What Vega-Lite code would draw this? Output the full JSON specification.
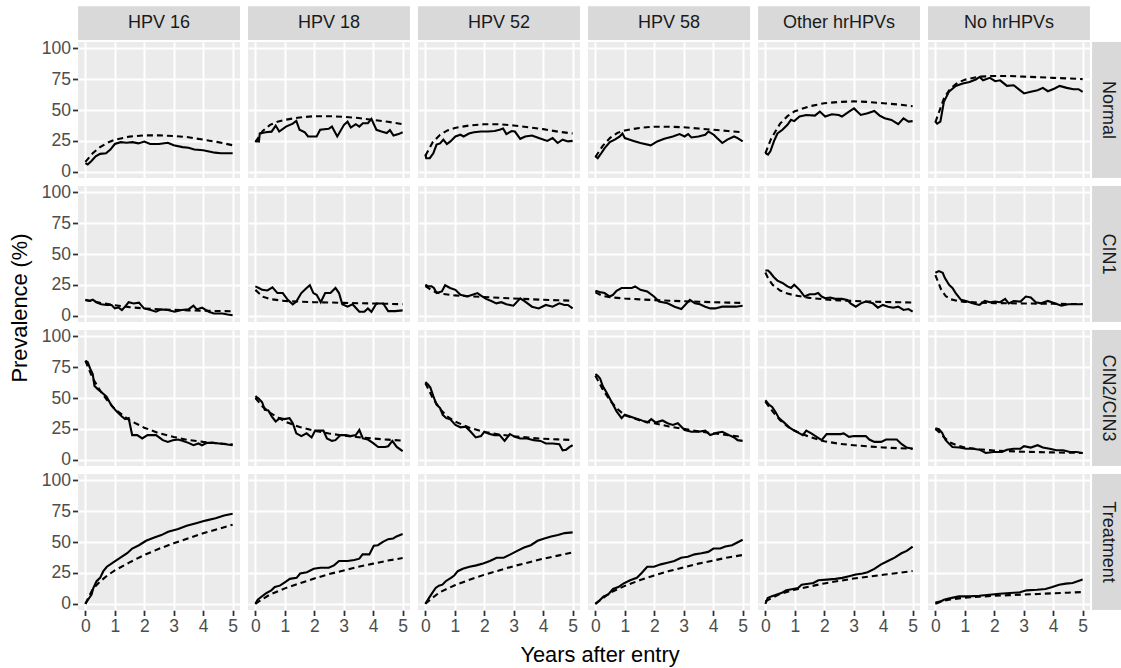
{
"$schema": "https://vega.github.io/schema/vega-lite/v6.json",
"background": "white",
"padding": {"left": 10, "top": 6, "right": 0, "bottom": 0},
"data": {"values": [
{"col":"HPV 16","row":"Normal","s":"obs","t":0,"v":7},{"col":"HPV 16","row":"Normal","s":"obs","t":0.08,"v":6},{"col":"HPV 16","row":"Normal","s":"obs","t":0.2,"v":8.5},{"col":"HPV 16","row":"Normal","s":"obs","t":0.35,"v":12.5},{"col":"HPV 16","row":"Normal","s":"obs","t":0.5,"v":14.5},{"col":"HPV 16","row":"Normal","s":"obs","t":0.7,"v":15},{"col":"HPV 16","row":"Normal","s":"obs","t":0.85,"v":18},{"col":"HPV 16","row":"Normal","s":"obs","t":1.0,"v":22.5},{"col":"HPV 16","row":"Normal","s":"obs","t":1.2,"v":24},{"col":"HPV 16","row":"Normal","s":"obs","t":1.4,"v":23.5},{"col":"HPV 16","row":"Normal","s":"obs","t":1.6,"v":24},{"col":"HPV 16","row":"Normal","s":"obs","t":1.8,"v":23},{"col":"HPV 16","row":"Normal","s":"obs","t":2.0,"v":24.5},{"col":"HPV 16","row":"Normal","s":"obs","t":2.2,"v":22.5},{"col":"HPV 16","row":"Normal","s":"obs","t":2.5,"v":22.5},{"col":"HPV 16","row":"Normal","s":"obs","t":2.8,"v":23.5},{"col":"HPV 16","row":"Normal","s":"obs","t":3.0,"v":21.5},{"col":"HPV 16","row":"Normal","s":"obs","t":3.3,"v":20},{"col":"HPV 16","row":"Normal","s":"obs","t":3.5,"v":19.5},{"col":"HPV 16","row":"Normal","s":"obs","t":3.7,"v":18},{"col":"HPV 16","row":"Normal","s":"obs","t":4.0,"v":17.5},{"col":"HPV 16","row":"Normal","s":"obs","t":4.2,"v":16.5},{"col":"HPV 16","row":"Normal","s":"obs","t":4.4,"v":15.5},{"col":"HPV 16","row":"Normal","s":"obs","t":4.6,"v":15},{"col":"HPV 16","row":"Normal","s":"obs","t":5.0,"v":15},
{"col":"HPV 16","row":"Normal","s":"mod","t":0,"v":8},{"col":"HPV 16","row":"Normal","s":"mod","t":0.25,"v":15},{"col":"HPV 16","row":"Normal","s":"mod","t":0.5,"v":20},{"col":"HPV 16","row":"Normal","s":"mod","t":0.75,"v":23.5},{"col":"HPV 16","row":"Normal","s":"mod","t":1,"v":26},{"col":"HPV 16","row":"Normal","s":"mod","t":1.5,"v":28.5},{"col":"HPV 16","row":"Normal","s":"mod","t":2,"v":29.5},{"col":"HPV 16","row":"Normal","s":"mod","t":2.5,"v":29.5},{"col":"HPV 16","row":"Normal","s":"mod","t":3,"v":29},{"col":"HPV 16","row":"Normal","s":"mod","t":3.5,"v":28},{"col":"HPV 16","row":"Normal","s":"mod","t":4,"v":26},{"col":"HPV 16","row":"Normal","s":"mod","t":4.5,"v":24},{"col":"HPV 16","row":"Normal","s":"mod","t":5,"v":21.5},
{"col":"HPV 18","row":"Normal","s":"obs","t":0,"v":25},{"col":"HPV 18","row":"Normal","s":"obs","t":0.12,"v":24.5},{"col":"HPV 18","row":"Normal","s":"obs","t":0.15,"v":31},{"col":"HPV 18","row":"Normal","s":"obs","t":0.35,"v":32},{"col":"HPV 18","row":"Normal","s":"obs","t":0.55,"v":32.5},{"col":"HPV 18","row":"Normal","s":"obs","t":0.69,"v":37.4},{"col":"HPV 18","row":"Normal","s":"obs","t":0.81,"v":32.6},{"col":"HPV 18","row":"Normal","s":"obs","t":1.04,"v":36.6},{"col":"HPV 18","row":"Normal","s":"obs","t":1.27,"v":39},{"col":"HPV 18","row":"Normal","s":"obs","t":1.39,"v":41.2},{"col":"HPV 18","row":"Normal","s":"obs","t":1.5,"v":34},{"col":"HPV 18","row":"Normal","s":"obs","t":1.68,"v":32},{"col":"HPV 18","row":"Normal","s":"obs","t":1.79,"v":28.6},{"col":"HPV 18","row":"Normal","s":"obs","t":2.08,"v":28.6},{"col":"HPV 18","row":"Normal","s":"obs","t":2.2,"v":34},{"col":"HPV 18","row":"Normal","s":"obs","t":2.49,"v":34.8},{"col":"HPV 18","row":"Normal","s":"obs","t":2.6,"v":36.6},{"col":"HPV 18","row":"Normal","s":"obs","t":2.78,"v":28.6},{"col":"HPV 18","row":"Normal","s":"obs","t":3.01,"v":38},{"col":"HPV 18","row":"Normal","s":"obs","t":3.13,"v":40.6},{"col":"HPV 18","row":"Normal","s":"obs","t":3.24,"v":35.8},{"col":"HPV 18","row":"Normal","s":"obs","t":3.41,"v":38.5},{"col":"HPV 18","row":"Normal","s":"obs","t":3.53,"v":36.6},{"col":"HPV 18","row":"Normal","s":"obs","t":3.65,"v":39.3},{"col":"HPV 18","row":"Normal","s":"obs","t":3.82,"v":39.3},{"col":"HPV 18","row":"Normal","s":"obs","t":3.94,"v":42.8},{"col":"HPV 18","row":"Normal","s":"obs","t":4.11,"v":34},{"col":"HPV 18","row":"Normal","s":"obs","t":4.28,"v":32.6},{"col":"HPV 18","row":"Normal","s":"obs","t":4.46,"v":31.3},{"col":"HPV 18","row":"Normal","s":"obs","t":4.57,"v":33.7},{"col":"HPV 18","row":"Normal","s":"obs","t":4.69,"v":29.4},{"col":"HPV 18","row":"Normal","s":"obs","t":4.86,"v":30.5},{"col":"HPV 18","row":"Normal","s":"obs","t":5,"v":32},
{"col":"HPV 18","row":"Normal","s":"mod","t":0,"v":24},{"col":"HPV 18","row":"Normal","s":"mod","t":0.25,"v":33},{"col":"HPV 18","row":"Normal","s":"mod","t":0.5,"v":38},{"col":"HPV 18","row":"Normal","s":"mod","t":0.75,"v":40.5},{"col":"HPV 18","row":"Normal","s":"mod","t":1,"v":42},{"col":"HPV 18","row":"Normal","s":"mod","t":1.5,"v":44},{"col":"HPV 18","row":"Normal","s":"mod","t":2,"v":45},{"col":"HPV 18","row":"Normal","s":"mod","t":2.5,"v":45},{"col":"HPV 18","row":"Normal","s":"mod","t":3,"v":44.5},{"col":"HPV 18","row":"Normal","s":"mod","t":3.5,"v":43.5},{"col":"HPV 18","row":"Normal","s":"mod","t":4,"v":42},{"col":"HPV 18","row":"Normal","s":"mod","t":4.5,"v":40.5},{"col":"HPV 18","row":"Normal","s":"mod","t":5,"v":38.5},
{"col":"HPV 52","row":"Normal","s":"obs","t":0,"v":14},{"col":"HPV 52","row":"Normal","s":"obs","t":0.03,"v":11},{"col":"HPV 52","row":"Normal","s":"obs","t":0.15,"v":11},{"col":"HPV 52","row":"Normal","s":"obs","t":0.27,"v":15},{"col":"HPV 52","row":"Normal","s":"obs","t":0.38,"v":22},{"col":"HPV 52","row":"Normal","s":"obs","t":0.5,"v":23},{"col":"HPV 52","row":"Normal","s":"obs","t":0.61,"v":26},{"col":"HPV 52","row":"Normal","s":"obs","t":0.73,"v":22.5},{"col":"HPV 52","row":"Normal","s":"obs","t":0.85,"v":24.6},{"col":"HPV 52","row":"Normal","s":"obs","t":1.02,"v":28.6},{"col":"HPV 52","row":"Normal","s":"obs","t":1.19,"v":30},{"col":"HPV 52","row":"Normal","s":"obs","t":1.3,"v":28.6},{"col":"HPV 52","row":"Normal","s":"obs","t":1.48,"v":31},{"col":"HPV 52","row":"Normal","s":"obs","t":1.65,"v":32},{"col":"HPV 52","row":"Normal","s":"obs","t":1.89,"v":32.6},{"col":"HPV 52","row":"Normal","s":"obs","t":2.12,"v":32.6},{"col":"HPV 52","row":"Normal","s":"obs","t":2.35,"v":33},{"col":"HPV 52","row":"Normal","s":"obs","t":2.52,"v":34},{"col":"HPV 52","row":"Normal","s":"obs","t":2.64,"v":35},{"col":"HPV 52","row":"Normal","s":"obs","t":2.75,"v":30.5},{"col":"HPV 52","row":"Normal","s":"obs","t":2.93,"v":33},{"col":"HPV 52","row":"Normal","s":"obs","t":3.04,"v":32.6},{"col":"HPV 52","row":"Normal","s":"obs","t":3.22,"v":26.7},{"col":"HPV 52","row":"Normal","s":"obs","t":3.39,"v":28.6},{"col":"HPV 52","row":"Normal","s":"obs","t":3.62,"v":29.4},{"col":"HPV 52","row":"Normal","s":"obs","t":3.85,"v":27.3},{"col":"HPV 52","row":"Normal","s":"obs","t":4.14,"v":25},{"col":"HPV 52","row":"Normal","s":"obs","t":4.32,"v":27.3},{"col":"HPV 52","row":"Normal","s":"obs","t":4.49,"v":23.3},{"col":"HPV 52","row":"Normal","s":"obs","t":4.66,"v":26},{"col":"HPV 52","row":"Normal","s":"obs","t":4.84,"v":24.6},{"col":"HPV 52","row":"Normal","s":"obs","t":5,"v":25},
{"col":"HPV 52","row":"Normal","s":"mod","t":0,"v":13},{"col":"HPV 52","row":"Normal","s":"mod","t":0.25,"v":24},{"col":"HPV 52","row":"Normal","s":"mod","t":0.5,"v":30},{"col":"HPV 52","row":"Normal","s":"mod","t":0.75,"v":33.5},{"col":"HPV 52","row":"Normal","s":"mod","t":1,"v":35.5},{"col":"HPV 52","row":"Normal","s":"mod","t":1.5,"v":37.5},{"col":"HPV 52","row":"Normal","s":"mod","t":2,"v":38.5},{"col":"HPV 52","row":"Normal","s":"mod","t":2.5,"v":38.5},{"col":"HPV 52","row":"Normal","s":"mod","t":3,"v":37.5},{"col":"HPV 52","row":"Normal","s":"mod","t":3.5,"v":36},{"col":"HPV 52","row":"Normal","s":"mod","t":4,"v":34.5},{"col":"HPV 52","row":"Normal","s":"mod","t":4.5,"v":32.5},{"col":"HPV 52","row":"Normal","s":"mod","t":5,"v":31},
{"col":"HPV 58","row":"Normal","s":"obs","t":0,"v":12.6},{"col":"HPV 58","row":"Normal","s":"obs","t":0.08,"v":11},{"col":"HPV 58","row":"Normal","s":"obs","t":0.2,"v":15},{"col":"HPV 58","row":"Normal","s":"obs","t":0.31,"v":19},{"col":"HPV 58","row":"Normal","s":"obs","t":0.49,"v":24},{"col":"HPV 58","row":"Normal","s":"obs","t":0.66,"v":26},{"col":"HPV 58","row":"Normal","s":"obs","t":0.83,"v":28.6},{"col":"HPV 58","row":"Normal","s":"obs","t":0.92,"v":31},{"col":"HPV 58","row":"Normal","s":"obs","t":1.0,"v":27.3},{"col":"HPV 58","row":"Normal","s":"obs","t":1.3,"v":25},{"col":"HPV 58","row":"Normal","s":"obs","t":1.53,"v":23.3},{"col":"HPV 58","row":"Normal","s":"obs","t":1.88,"v":21.4},{"col":"HPV 58","row":"Normal","s":"obs","t":2.1,"v":24.6},{"col":"HPV 58","row":"Normal","s":"obs","t":2.34,"v":26.7},{"col":"HPV 58","row":"Normal","s":"obs","t":2.63,"v":28.6},{"col":"HPV 58","row":"Normal","s":"obs","t":2.86,"v":30.5},{"col":"HPV 58","row":"Normal","s":"obs","t":3.03,"v":28.6},{"col":"HPV 58","row":"Normal","s":"obs","t":3.15,"v":30.5},{"col":"HPV 58","row":"Normal","s":"obs","t":3.26,"v":27.8},{"col":"HPV 58","row":"Normal","s":"obs","t":3.5,"v":28.6},{"col":"HPV 58","row":"Normal","s":"obs","t":3.73,"v":30},{"col":"HPV 58","row":"Normal","s":"obs","t":3.84,"v":32.6},{"col":"HPV 58","row":"Normal","s":"obs","t":4.02,"v":30},{"col":"HPV 58","row":"Normal","s":"obs","t":4.13,"v":27.3},{"col":"HPV 58","row":"Normal","s":"obs","t":4.31,"v":23.3},{"col":"HPV 58","row":"Normal","s":"obs","t":4.48,"v":26},{"col":"HPV 58","row":"Normal","s":"obs","t":4.71,"v":28.6},{"col":"HPV 58","row":"Normal","s":"obs","t":4.83,"v":27.3},{"col":"HPV 58","row":"Normal","s":"obs","t":5,"v":24.6},
{"col":"HPV 58","row":"Normal","s":"mod","t":0,"v":12},{"col":"HPV 58","row":"Normal","s":"mod","t":0.25,"v":21},{"col":"HPV 58","row":"Normal","s":"mod","t":0.5,"v":27.5},{"col":"HPV 58","row":"Normal","s":"mod","t":0.75,"v":31.5},{"col":"HPV 58","row":"Normal","s":"mod","t":1,"v":33.5},{"col":"HPV 58","row":"Normal","s":"mod","t":1.5,"v":35.5},{"col":"HPV 58","row":"Normal","s":"mod","t":2,"v":36.5},{"col":"HPV 58","row":"Normal","s":"mod","t":2.5,"v":36.5},{"col":"HPV 58","row":"Normal","s":"mod","t":3,"v":36},{"col":"HPV 58","row":"Normal","s":"mod","t":3.5,"v":35},{"col":"HPV 58","row":"Normal","s":"mod","t":4,"v":34},{"col":"HPV 58","row":"Normal","s":"mod","t":4.5,"v":33},{"col":"HPV 58","row":"Normal","s":"mod","t":5,"v":32},
{"col":"Other hrHPVs","row":"Normal","s":"obs","t":0,"v":15.2},{"col":"Other hrHPVs","row":"Normal","s":"obs","t":0.09,"v":14},{"col":"Other hrHPVs","row":"Normal","s":"obs","t":0.17,"v":16.6},{"col":"Other hrHPVs","row":"Normal","s":"obs","t":0.29,"v":24.6},{"col":"Other hrHPVs","row":"Normal","s":"obs","t":0.41,"v":31},{"col":"Other hrHPVs","row":"Normal","s":"obs","t":0.58,"v":34},{"col":"Other hrHPVs","row":"Normal","s":"obs","t":0.75,"v":38},{"col":"Other hrHPVs","row":"Normal","s":"obs","t":0.87,"v":42},{"col":"Other hrHPVs","row":"Normal","s":"obs","t":0.98,"v":41},{"col":"Other hrHPVs","row":"Normal","s":"obs","t":1.16,"v":44.7},{"col":"Other hrHPVs","row":"Normal","s":"obs","t":1.39,"v":46},{"col":"Other hrHPVs","row":"Normal","s":"obs","t":1.68,"v":45.5},{"col":"Other hrHPVs","row":"Normal","s":"obs","t":1.85,"v":48.7},{"col":"Other hrHPVs","row":"Normal","s":"obs","t":2.03,"v":44.7},{"col":"Other hrHPVs","row":"Normal","s":"obs","t":2.26,"v":46.5},{"col":"Other hrHPVs","row":"Normal","s":"obs","t":2.49,"v":46},{"col":"Other hrHPVs","row":"Normal","s":"obs","t":2.6,"v":44.7},{"col":"Other hrHPVs","row":"Normal","s":"obs","t":2.84,"v":48.7},{"col":"Other hrHPVs","row":"Normal","s":"obs","t":3.01,"v":51.3},{"col":"Other hrHPVs","row":"Normal","s":"obs","t":3.24,"v":46},{"col":"Other hrHPVs","row":"Normal","s":"obs","t":3.47,"v":47.3},{"col":"Other hrHPVs","row":"Normal","s":"obs","t":3.7,"v":49.2},{"col":"Other hrHPVs","row":"Normal","s":"obs","t":3.88,"v":45.5},{"col":"Other hrHPVs","row":"Normal","s":"obs","t":4.05,"v":43.3},{"col":"Other hrHPVs","row":"Normal","s":"obs","t":4.28,"v":42},{"col":"Other hrHPVs","row":"Normal","s":"obs","t":4.51,"v":38.5},{"col":"Other hrHPVs","row":"Normal","s":"obs","t":4.69,"v":43.3},{"col":"Other hrHPVs","row":"Normal","s":"obs","t":4.86,"v":40.6},{"col":"Other hrHPVs","row":"Normal","s":"obs","t":5,"v":41},
{"col":"Other hrHPVs","row":"Normal","s":"mod","t":0,"v":15},{"col":"Other hrHPVs","row":"Normal","s":"mod","t":0.2,"v":27},{"col":"Other hrHPVs","row":"Normal","s":"mod","t":0.5,"v":39},{"col":"Other hrHPVs","row":"Normal","s":"mod","t":0.75,"v":45},{"col":"Other hrHPVs","row":"Normal","s":"mod","t":1,"v":49},{"col":"Other hrHPVs","row":"Normal","s":"mod","t":1.5,"v":53},{"col":"Other hrHPVs","row":"Normal","s":"mod","t":2,"v":55.5},{"col":"Other hrHPVs","row":"Normal","s":"mod","t":2.5,"v":56.5},{"col":"Other hrHPVs","row":"Normal","s":"mod","t":3,"v":57},{"col":"Other hrHPVs","row":"Normal","s":"mod","t":3.5,"v":56.5},{"col":"Other hrHPVs","row":"Normal","s":"mod","t":4,"v":55.5},{"col":"Other hrHPVs","row":"Normal","s":"mod","t":4.5,"v":54.5},{"col":"Other hrHPVs","row":"Normal","s":"mod","t":5,"v":53},
{"col":"No hrHPVs","row":"Normal","s":"obs","t":0,"v":40.6},{"col":"No hrHPVs","row":"Normal","s":"obs","t":0.06,"v":39},{"col":"No hrHPVs","row":"Normal","s":"obs","t":0.17,"v":40.6},{"col":"No hrHPVs","row":"Normal","s":"obs","t":0.29,"v":56.7},{"col":"No hrHPVs","row":"Normal","s":"obs","t":0.46,"v":64.7},{"col":"No hrHPVs","row":"Normal","s":"obs","t":0.69,"v":69.5},{"col":"No hrHPVs","row":"Normal","s":"obs","t":0.93,"v":71.4},{"col":"No hrHPVs","row":"Normal","s":"obs","t":1.16,"v":72.7},{"col":"No hrHPVs","row":"Normal","s":"obs","t":1.39,"v":74.9},{"col":"No hrHPVs","row":"Normal","s":"obs","t":1.5,"v":76.7},{"col":"No hrHPVs","row":"Normal","s":"obs","t":1.62,"v":74},{"col":"No hrHPVs","row":"Normal","s":"obs","t":1.85,"v":76},{"col":"No hrHPVs","row":"Normal","s":"obs","t":2.03,"v":73.3},{"col":"No hrHPVs","row":"Normal","s":"obs","t":2.2,"v":74},{"col":"No hrHPVs","row":"Normal","s":"obs","t":2.43,"v":69.5},{"col":"No hrHPVs","row":"Normal","s":"obs","t":2.66,"v":70},{"col":"No hrHPVs","row":"Normal","s":"obs","t":3.01,"v":63.4},{"col":"No hrHPVs","row":"Normal","s":"obs","t":3.24,"v":64.7},{"col":"No hrHPVs","row":"Normal","s":"obs","t":3.47,"v":66},{"col":"No hrHPVs","row":"Normal","s":"obs","t":3.65,"v":67.9},{"col":"No hrHPVs","row":"Normal","s":"obs","t":3.82,"v":65.2},{"col":"No hrHPVs","row":"Normal","s":"obs","t":4.05,"v":67.4},{"col":"No hrHPVs","row":"Normal","s":"obs","t":4.22,"v":69.5},{"col":"No hrHPVs","row":"Normal","s":"obs","t":4.46,"v":67.9},{"col":"No hrHPVs","row":"Normal","s":"obs","t":4.69,"v":66.8},{"col":"No hrHPVs","row":"Normal","s":"obs","t":4.86,"v":66.8},{"col":"No hrHPVs","row":"Normal","s":"obs","t":5,"v":64.7},
{"col":"No hrHPVs","row":"Normal","s":"mod","t":0,"v":40},{"col":"No hrHPVs","row":"Normal","s":"mod","t":0.15,"v":50},{"col":"No hrHPVs","row":"Normal","s":"mod","t":0.3,"v":60},{"col":"No hrHPVs","row":"Normal","s":"mod","t":0.5,"v":67},{"col":"No hrHPVs","row":"Normal","s":"mod","t":0.75,"v":72},{"col":"No hrHPVs","row":"Normal","s":"mod","t":1,"v":74.5},{"col":"No hrHPVs","row":"Normal","s":"mod","t":1.5,"v":77},{"col":"No hrHPVs","row":"Normal","s":"mod","t":2,"v":77.5},{"col":"No hrHPVs","row":"Normal","s":"mod","t":2.5,"v":77.5},{"col":"No hrHPVs","row":"Normal","s":"mod","t":3,"v":77},{"col":"No hrHPVs","row":"Normal","s":"mod","t":3.5,"v":76.5},{"col":"No hrHPVs","row":"Normal","s":"mod","t":4,"v":76},{"col":"No hrHPVs","row":"Normal","s":"mod","t":4.5,"v":75.5},{"col":"No hrHPVs","row":"Normal","s":"mod","t":5,"v":75},
{"col":"HPV 16","row":"CIN1","s":"obs","t":0,"v":12.6},{"col":"HPV 16","row":"CIN1","s":"obs","t":0.14,"v":12},{"col":"HPV 16","row":"CIN1","s":"obs","t":0.25,"v":13},{"col":"HPV 16","row":"CIN1","s":"obs","t":0.37,"v":11},{"col":"HPV 16","row":"CIN1","s":"obs","t":0.54,"v":9.3},{"col":"HPV 16","row":"CIN1","s":"obs","t":0.72,"v":8.8},{"col":"HPV 16","row":"CIN1","s":"obs","t":0.89,"v":8.8},{"col":"HPV 16","row":"CIN1","s":"obs","t":1.0,"v":6},{"col":"HPV 16","row":"CIN1","s":"obs","t":1.12,"v":6.8},{"col":"HPV 16","row":"CIN1","s":"obs","t":1.24,"v":4.7},{"col":"HPV 16","row":"CIN1","s":"obs","t":1.35,"v":7.4},{"col":"HPV 16","row":"CIN1","s":"obs","t":1.47,"v":11},{"col":"HPV 16","row":"CIN1","s":"obs","t":1.64,"v":10},{"col":"HPV 16","row":"CIN1","s":"obs","t":1.82,"v":10.7},{"col":"HPV 16","row":"CIN1","s":"obs","t":1.99,"v":6},{"col":"HPV 16","row":"CIN1","s":"obs","t":2.22,"v":4.7},{"col":"HPV 16","row":"CIN1","s":"obs","t":2.4,"v":3.3},{"col":"HPV 16","row":"CIN1","s":"obs","t":2.57,"v":5.2},{"col":"HPV 16","row":"CIN1","s":"obs","t":2.8,"v":4.7},{"col":"HPV 16","row":"CIN1","s":"obs","t":3.03,"v":3.3},{"col":"HPV 16","row":"CIN1","s":"obs","t":3.26,"v":4.7},{"col":"HPV 16","row":"CIN1","s":"obs","t":3.5,"v":5.2},{"col":"HPV 16","row":"CIN1","s":"obs","t":3.67,"v":8.2},{"col":"HPV 16","row":"CIN1","s":"obs","t":3.78,"v":5.2},{"col":"HPV 16","row":"CIN1","s":"obs","t":3.96,"v":6.6},{"col":"HPV 16","row":"CIN1","s":"obs","t":4.19,"v":3.3},{"col":"HPV 16","row":"CIN1","s":"obs","t":4.36,"v":1.9},{"col":"HPV 16","row":"CIN1","s":"obs","t":4.65,"v":1.9},{"col":"HPV 16","row":"CIN1","s":"obs","t":4.83,"v":1.1},{"col":"HPV 16","row":"CIN1","s":"obs","t":5,"v":0.5},
{"col":"HPV 16","row":"CIN1","s":"mod","t":0,"v":13},{"col":"HPV 16","row":"CIN1","s":"mod","t":0.5,"v":10.5},{"col":"HPV 16","row":"CIN1","s":"mod","t":1,"v":8.5},{"col":"HPV 16","row":"CIN1","s":"mod","t":1.5,"v":7},{"col":"HPV 16","row":"CIN1","s":"mod","t":2,"v":6},{"col":"HPV 16","row":"CIN1","s":"mod","t":2.5,"v":5.3},{"col":"HPV 16","row":"CIN1","s":"mod","t":3,"v":4.8},{"col":"HPV 16","row":"CIN1","s":"mod","t":3.5,"v":4.4},{"col":"HPV 16","row":"CIN1","s":"mod","t":4,"v":4.1},{"col":"HPV 16","row":"CIN1","s":"mod","t":4.5,"v":3.9},{"col":"HPV 16","row":"CIN1","s":"mod","t":5,"v":3.7},
{"col":"HPV 18","row":"CIN1","s":"obs","t":0,"v":23.8},{"col":"HPV 18","row":"CIN1","s":"obs","t":0.12,"v":22.5},{"col":"HPV 18","row":"CIN1","s":"obs","t":0.23,"v":21},{"col":"HPV 18","row":"CIN1","s":"obs","t":0.41,"v":20.5},{"col":"HPV 18","row":"CIN1","s":"obs","t":0.58,"v":23},{"col":"HPV 18","row":"CIN1","s":"obs","t":0.75,"v":18.4},{"col":"HPV 18","row":"CIN1","s":"obs","t":0.93,"v":18.4},{"col":"HPV 18","row":"CIN1","s":"obs","t":1.1,"v":12.9},{"col":"HPV 18","row":"CIN1","s":"obs","t":1.27,"v":9.3},{"col":"HPV 18","row":"CIN1","s":"obs","t":1.39,"v":11.5},{"col":"HPV 18","row":"CIN1","s":"obs","t":1.56,"v":18.4},{"col":"HPV 18","row":"CIN1","s":"obs","t":1.74,"v":22.5},{"col":"HPV 18","row":"CIN1","s":"obs","t":1.85,"v":24.7},{"col":"HPV 18","row":"CIN1","s":"obs","t":1.97,"v":18.4},{"col":"HPV 18","row":"CIN1","s":"obs","t":2.08,"v":17},{"col":"HPV 18","row":"CIN1","s":"obs","t":2.22,"v":11},{"col":"HPV 18","row":"CIN1","s":"obs","t":2.37,"v":18.4},{"col":"HPV 18","row":"CIN1","s":"obs","t":2.55,"v":18.4},{"col":"HPV 18","row":"CIN1","s":"obs","t":2.72,"v":22.5},{"col":"HPV 18","row":"CIN1","s":"obs","t":2.84,"v":18.4},{"col":"HPV 18","row":"CIN1","s":"obs","t":2.95,"v":9.3},{"col":"HPV 18","row":"CIN1","s":"obs","t":3.13,"v":7.4},{"col":"HPV 18","row":"CIN1","s":"obs","t":3.3,"v":9.3},{"col":"HPV 18","row":"CIN1","s":"obs","t":3.53,"v":3.3},{"col":"HPV 18","row":"CIN1","s":"obs","t":3.7,"v":3.3},{"col":"HPV 18","row":"CIN1","s":"obs","t":3.82,"v":6},{"col":"HPV 18","row":"CIN1","s":"obs","t":3.94,"v":3.3},{"col":"HPV 18","row":"CIN1","s":"obs","t":4.11,"v":10},{"col":"HPV 18","row":"CIN1","s":"obs","t":4.34,"v":10},{"col":"HPV 18","row":"CIN1","s":"obs","t":4.51,"v":3.8},{"col":"HPV 18","row":"CIN1","s":"obs","t":4.75,"v":3.8},{"col":"HPV 18","row":"CIN1","s":"obs","t":5,"v":4.4},
{"col":"HPV 18","row":"CIN1","s":"mod","t":0,"v":21},{"col":"HPV 18","row":"CIN1","s":"mod","t":0.25,"v":15.5},{"col":"HPV 18","row":"CIN1","s":"mod","t":0.5,"v":13.5},{"col":"HPV 18","row":"CIN1","s":"mod","t":1,"v":12},{"col":"HPV 18","row":"CIN1","s":"mod","t":1.5,"v":11.5},{"col":"HPV 18","row":"CIN1","s":"mod","t":2,"v":11},{"col":"HPV 18","row":"CIN1","s":"mod","t":2.5,"v":10.8},{"col":"HPV 18","row":"CIN1","s":"mod","t":3,"v":10.5},{"col":"HPV 18","row":"CIN1","s":"mod","t":3.5,"v":10.2},{"col":"HPV 18","row":"CIN1","s":"mod","t":4,"v":10},{"col":"HPV 18","row":"CIN1","s":"mod","t":4.5,"v":9.7},{"col":"HPV 18","row":"CIN1","s":"mod","t":5,"v":9.4},
{"col":"HPV 52","row":"CIN1","s":"obs","t":0,"v":25.2},{"col":"HPV 52","row":"CIN1","s":"obs","t":0.09,"v":23.8},{"col":"HPV 52","row":"CIN1","s":"obs","t":0.21,"v":23.8},{"col":"HPV 52","row":"CIN1","s":"obs","t":0.29,"v":22.5},{"col":"HPV 52","row":"CIN1","s":"obs","t":0.38,"v":18.4},{"col":"HPV 52","row":"CIN1","s":"obs","t":0.56,"v":19.7},{"col":"HPV 52","row":"CIN1","s":"obs","t":0.67,"v":24.7},{"col":"HPV 52","row":"CIN1","s":"obs","t":0.84,"v":22.5},{"col":"HPV 52","row":"CIN1","s":"obs","t":1.02,"v":21},{"col":"HPV 52","row":"CIN1","s":"obs","t":1.19,"v":17},{"col":"HPV 52","row":"CIN1","s":"obs","t":1.42,"v":15.6},{"col":"HPV 52","row":"CIN1","s":"obs","t":1.6,"v":17},{"col":"HPV 52","row":"CIN1","s":"obs","t":1.77,"v":18.4},{"col":"HPV 52","row":"CIN1","s":"obs","t":1.89,"v":16.4},{"col":"HPV 52","row":"CIN1","s":"obs","t":2.06,"v":13.7},{"col":"HPV 52","row":"CIN1","s":"obs","t":2.24,"v":12},{"col":"HPV 52","row":"CIN1","s":"obs","t":2.41,"v":10.1},{"col":"HPV 52","row":"CIN1","s":"obs","t":2.58,"v":11},{"col":"HPV 52","row":"CIN1","s":"obs","t":2.75,"v":9.3},{"col":"HPV 52","row":"CIN1","s":"obs","t":2.99,"v":8.2},{"col":"HPV 52","row":"CIN1","s":"obs","t":3.22,"v":14.2},{"col":"HPV 52","row":"CIN1","s":"obs","t":3.39,"v":11.5},{"col":"HPV 52","row":"CIN1","s":"obs","t":3.62,"v":7.4},{"col":"HPV 52","row":"CIN1","s":"obs","t":3.85,"v":6},{"col":"HPV 52","row":"CIN1","s":"obs","t":4.09,"v":8.8},{"col":"HPV 52","row":"CIN1","s":"obs","t":4.32,"v":7.4},{"col":"HPV 52","row":"CIN1","s":"obs","t":4.55,"v":10.1},{"col":"HPV 52","row":"CIN1","s":"obs","t":4.72,"v":8.8},{"col":"HPV 52","row":"CIN1","s":"obs","t":4.84,"v":8.8},{"col":"HPV 52","row":"CIN1","s":"obs","t":5,"v":6},
{"col":"HPV 52","row":"CIN1","s":"mod","t":0,"v":24},{"col":"HPV 52","row":"CIN1","s":"mod","t":0.25,"v":20},{"col":"HPV 52","row":"CIN1","s":"mod","t":0.5,"v":18},{"col":"HPV 52","row":"CIN1","s":"mod","t":1,"v":16.5},{"col":"HPV 52","row":"CIN1","s":"mod","t":1.5,"v":15.8},{"col":"HPV 52","row":"CIN1","s":"mod","t":2,"v":15.2},{"col":"HPV 52","row":"CIN1","s":"mod","t":2.5,"v":14.6},{"col":"HPV 52","row":"CIN1","s":"mod","t":3,"v":14},{"col":"HPV 52","row":"CIN1","s":"mod","t":3.5,"v":13.5},{"col":"HPV 52","row":"CIN1","s":"mod","t":4,"v":13},{"col":"HPV 52","row":"CIN1","s":"mod","t":4.5,"v":12.6},{"col":"HPV 52","row":"CIN1","s":"mod","t":5,"v":12.2},
{"col":"HPV 58","row":"CIN1","s":"obs","t":0,"v":20.3},{"col":"HPV 58","row":"CIN1","s":"obs","t":0.14,"v":19.2},{"col":"HPV 58","row":"CIN1","s":"obs","t":0.31,"v":18.4},{"col":"HPV 58","row":"CIN1","s":"obs","t":0.49,"v":15.6},{"col":"HPV 58","row":"CIN1","s":"obs","t":0.6,"v":17},{"col":"HPV 58","row":"CIN1","s":"obs","t":0.72,"v":20.3},{"col":"HPV 58","row":"CIN1","s":"obs","t":0.89,"v":22.5},{"col":"HPV 58","row":"CIN1","s":"obs","t":1.06,"v":22.5},{"col":"HPV 58","row":"CIN1","s":"obs","t":1.24,"v":22.5},{"col":"HPV 58","row":"CIN1","s":"obs","t":1.35,"v":23.8},{"col":"HPV 58","row":"CIN1","s":"obs","t":1.53,"v":21},{"col":"HPV 58","row":"CIN1","s":"obs","t":1.76,"v":19.7},{"col":"HPV 58","row":"CIN1","s":"obs","t":1.99,"v":15.6},{"col":"HPV 58","row":"CIN1","s":"obs","t":2.16,"v":11.5},{"col":"HPV 58","row":"CIN1","s":"obs","t":2.45,"v":10.1},{"col":"HPV 58","row":"CIN1","s":"obs","t":2.69,"v":7.4},{"col":"HPV 58","row":"CIN1","s":"obs","t":2.92,"v":5.5},{"col":"HPV 58","row":"CIN1","s":"obs","t":3.21,"v":12.9},{"col":"HPV 58","row":"CIN1","s":"obs","t":3.38,"v":10.1},{"col":"HPV 58","row":"CIN1","s":"obs","t":3.55,"v":9.3},{"col":"HPV 58","row":"CIN1","s":"obs","t":3.73,"v":7.4},{"col":"HPV 58","row":"CIN1","s":"obs","t":3.9,"v":6},{"col":"HPV 58","row":"CIN1","s":"obs","t":4.07,"v":6},{"col":"HPV 58","row":"CIN1","s":"obs","t":4.31,"v":7.4},{"col":"HPV 58","row":"CIN1","s":"obs","t":4.54,"v":7.4},{"col":"HPV 58","row":"CIN1","s":"obs","t":4.77,"v":7.4},{"col":"HPV 58","row":"CIN1","s":"obs","t":5,"v":8.2},
{"col":"HPV 58","row":"CIN1","s":"mod","t":0,"v":19},{"col":"HPV 58","row":"CIN1","s":"mod","t":0.25,"v":16},{"col":"HPV 58","row":"CIN1","s":"mod","t":0.5,"v":15},{"col":"HPV 58","row":"CIN1","s":"mod","t":1,"v":14},{"col":"HPV 58","row":"CIN1","s":"mod","t":1.5,"v":13.3},{"col":"HPV 58","row":"CIN1","s":"mod","t":2,"v":12.7},{"col":"HPV 58","row":"CIN1","s":"mod","t":2.5,"v":12.2},{"col":"HPV 58","row":"CIN1","s":"mod","t":3,"v":11.8},{"col":"HPV 58","row":"CIN1","s":"mod","t":3.5,"v":11.4},{"col":"HPV 58","row":"CIN1","s":"mod","t":4,"v":11},{"col":"HPV 58","row":"CIN1","s":"mod","t":4.5,"v":10.7},{"col":"HPV 58","row":"CIN1","s":"mod","t":5,"v":10.4},
{"col":"Other hrHPVs","row":"CIN1","s":"obs","t":0,"v":36.7},{"col":"Other hrHPVs","row":"CIN1","s":"obs","t":0.09,"v":36.7},{"col":"Other hrHPVs","row":"CIN1","s":"obs","t":0.17,"v":34.8},{"col":"Other hrHPVs","row":"CIN1","s":"obs","t":0.29,"v":31.2},{"col":"Other hrHPVs","row":"CIN1","s":"obs","t":0.41,"v":28.5},{"col":"Other hrHPVs","row":"CIN1","s":"obs","t":0.58,"v":26.6},{"col":"Other hrHPVs","row":"CIN1","s":"obs","t":0.75,"v":23.8},{"col":"Other hrHPVs","row":"CIN1","s":"obs","t":0.87,"v":22.5},{"col":"Other hrHPVs","row":"CIN1","s":"obs","t":0.98,"v":25.2},{"col":"Other hrHPVs","row":"CIN1","s":"obs","t":1.16,"v":21},{"col":"Other hrHPVs","row":"CIN1","s":"obs","t":1.33,"v":15.6},{"col":"Other hrHPVs","row":"CIN1","s":"obs","t":1.5,"v":17.5},{"col":"Other hrHPVs","row":"CIN1","s":"obs","t":1.68,"v":17.5},{"col":"Other hrHPVs","row":"CIN1","s":"obs","t":1.79,"v":18.4},{"col":"Other hrHPVs","row":"CIN1","s":"obs","t":1.91,"v":15.6},{"col":"Other hrHPVs","row":"CIN1","s":"obs","t":2.03,"v":14.2},{"col":"Other hrHPVs","row":"CIN1","s":"obs","t":2.2,"v":14.8},{"col":"Other hrHPVs","row":"CIN1","s":"obs","t":2.37,"v":13.7},{"col":"Other hrHPVs","row":"CIN1","s":"obs","t":2.6,"v":13.7},{"col":"Other hrHPVs","row":"CIN1","s":"obs","t":2.78,"v":12.9},{"col":"Other hrHPVs","row":"CIN1","s":"obs","t":2.89,"v":10.1},{"col":"Other hrHPVs","row":"CIN1","s":"obs","t":3.07,"v":7.4},{"col":"Other hrHPVs","row":"CIN1","s":"obs","t":3.24,"v":10.1},{"col":"Other hrHPVs","row":"CIN1","s":"obs","t":3.41,"v":11.5},{"col":"Other hrHPVs","row":"CIN1","s":"obs","t":3.65,"v":10.1},{"col":"Other hrHPVs","row":"CIN1","s":"obs","t":3.82,"v":6.6},{"col":"Other hrHPVs","row":"CIN1","s":"obs","t":3.99,"v":8.8},{"col":"Other hrHPVs","row":"CIN1","s":"obs","t":4.17,"v":7.4},{"col":"Other hrHPVs","row":"CIN1","s":"obs","t":4.34,"v":6.6},{"col":"Other hrHPVs","row":"CIN1","s":"obs","t":4.51,"v":7.4},{"col":"Other hrHPVs","row":"CIN1","s":"obs","t":4.69,"v":4.7},{"col":"Other hrHPVs","row":"CIN1","s":"obs","t":4.86,"v":5.5},{"col":"Other hrHPVs","row":"CIN1","s":"obs","t":5,"v":3.3},
{"col":"Other hrHPVs","row":"CIN1","s":"mod","t":0,"v":35},{"col":"Other hrHPVs","row":"CIN1","s":"mod","t":0.1,"v":30},{"col":"Other hrHPVs","row":"CIN1","s":"mod","t":0.25,"v":25},{"col":"Other hrHPVs","row":"CIN1","s":"mod","t":0.5,"v":20.5},{"col":"Other hrHPVs","row":"CIN1","s":"mod","t":0.75,"v":18},{"col":"Other hrHPVs","row":"CIN1","s":"mod","t":1,"v":16.5},{"col":"Other hrHPVs","row":"CIN1","s":"mod","t":1.5,"v":14.5},{"col":"Other hrHPVs","row":"CIN1","s":"mod","t":2,"v":13.3},{"col":"Other hrHPVs","row":"CIN1","s":"mod","t":2.5,"v":12.5},{"col":"Other hrHPVs","row":"CIN1","s":"mod","t":3,"v":12},{"col":"Other hrHPVs","row":"CIN1","s":"mod","t":3.5,"v":11.5},{"col":"Other hrHPVs","row":"CIN1","s":"mod","t":4,"v":11.2},{"col":"Other hrHPVs","row":"CIN1","s":"mod","t":4.5,"v":11},{"col":"Other hrHPVs","row":"CIN1","s":"mod","t":5,"v":10.8},
{"col":"No hrHPVs","row":"CIN1","s":"obs","t":0,"v":34.8},{"col":"No hrHPVs","row":"CIN1","s":"obs","t":0.12,"v":36.2},{"col":"No hrHPVs","row":"CIN1","s":"obs","t":0.25,"v":34.8},{"col":"No hrHPVs","row":"CIN1","s":"obs","t":0.32,"v":30.7},{"col":"No hrHPVs","row":"CIN1","s":"obs","t":0.46,"v":25.2},{"col":"No hrHPVs","row":"CIN1","s":"obs","t":0.58,"v":22.5},{"col":"No hrHPVs","row":"CIN1","s":"obs","t":0.69,"v":18.4},{"col":"No hrHPVs","row":"CIN1","s":"obs","t":0.87,"v":12.9},{"col":"No hrHPVs","row":"CIN1","s":"obs","t":1.04,"v":12},{"col":"No hrHPVs","row":"CIN1","s":"obs","t":1.27,"v":10.1},{"col":"No hrHPVs","row":"CIN1","s":"obs","t":1.39,"v":9.3},{"col":"No hrHPVs","row":"CIN1","s":"obs","t":1.5,"v":8.8},{"col":"No hrHPVs","row":"CIN1","s":"obs","t":1.68,"v":12},{"col":"No hrHPVs","row":"CIN1","s":"obs","t":1.85,"v":11},{"col":"No hrHPVs","row":"CIN1","s":"obs","t":2.03,"v":11.5},{"col":"No hrHPVs","row":"CIN1","s":"obs","t":2.2,"v":11},{"col":"No hrHPVs","row":"CIN1","s":"obs","t":2.37,"v":13.7},{"col":"No hrHPVs","row":"CIN1","s":"obs","t":2.49,"v":10.1},{"col":"No hrHPVs","row":"CIN1","s":"obs","t":2.66,"v":12},{"col":"No hrHPVs","row":"CIN1","s":"obs","t":2.89,"v":11.5},{"col":"No hrHPVs","row":"CIN1","s":"obs","t":3.07,"v":15.6},{"col":"No hrHPVs","row":"CIN1","s":"obs","t":3.24,"v":14.8},{"col":"No hrHPVs","row":"CIN1","s":"obs","t":3.41,"v":11},{"col":"No hrHPVs","row":"CIN1","s":"obs","t":3.59,"v":10.1},{"col":"No hrHPVs","row":"CIN1","s":"obs","t":3.82,"v":12},{"col":"No hrHPVs","row":"CIN1","s":"obs","t":4.05,"v":10.1},{"col":"No hrHPVs","row":"CIN1","s":"obs","t":4.28,"v":8.2},{"col":"No hrHPVs","row":"CIN1","s":"obs","t":4.51,"v":9.3},{"col":"No hrHPVs","row":"CIN1","s":"obs","t":4.75,"v":9.3},{"col":"No hrHPVs","row":"CIN1","s":"obs","t":5,"v":9.3},
{"col":"No hrHPVs","row":"CIN1","s":"mod","t":0,"v":33},{"col":"No hrHPVs","row":"CIN1","s":"mod","t":0.1,"v":27},{"col":"No hrHPVs","row":"CIN1","s":"mod","t":0.2,"v":21},{"col":"No hrHPVs","row":"CIN1","s":"mod","t":0.35,"v":16},{"col":"No hrHPVs","row":"CIN1","s":"mod","t":0.5,"v":13.5},{"col":"No hrHPVs","row":"CIN1","s":"mod","t":0.75,"v":12},{"col":"No hrHPVs","row":"CIN1","s":"mod","t":1,"v":11.3},{"col":"No hrHPVs","row":"CIN1","s":"mod","t":1.5,"v":10.7},{"col":"No hrHPVs","row":"CIN1","s":"mod","t":2,"v":10.3},{"col":"No hrHPVs","row":"CIN1","s":"mod","t":3,"v":10},{"col":"No hrHPVs","row":"CIN1","s":"mod","t":4,"v":9.7},{"col":"No hrHPVs","row":"CIN1","s":"mod","t":5,"v":9.5},
{"col":"HPV 16","row":"CIN2/CIN3","s":"obs","t":0,"v":80.3},{"col":"HPV 16","row":"CIN2/CIN3","s":"obs","t":0.08,"v":78.9},{"col":"HPV 16","row":"CIN2/CIN3","s":"obs","t":0.16,"v":74},{"col":"HPV 16","row":"CIN2/CIN3","s":"obs","t":0.25,"v":69.3},{"col":"HPV 16","row":"CIN2/CIN3","s":"obs","t":0.31,"v":59.7},{"col":"HPV 16","row":"CIN2/CIN3","s":"obs","t":0.43,"v":57},{"col":"HPV 16","row":"CIN2/CIN3","s":"obs","t":0.54,"v":54.8},{"col":"HPV 16","row":"CIN2/CIN3","s":"obs","t":0.72,"v":51},{"col":"HPV 16","row":"CIN2/CIN3","s":"obs","t":0.89,"v":43.8},{"col":"HPV 16","row":"CIN2/CIN3","s":"obs","t":1.06,"v":39.2},{"col":"HPV 16","row":"CIN2/CIN3","s":"obs","t":1.24,"v":35},{"col":"HPV 16","row":"CIN2/CIN3","s":"obs","t":1.35,"v":32.9},{"col":"HPV 16","row":"CIN2/CIN3","s":"obs","t":1.47,"v":33.7},{"col":"HPV 16","row":"CIN2/CIN3","s":"obs","t":1.53,"v":26.8},{"col":"HPV 16","row":"CIN2/CIN3","s":"obs","t":1.59,"v":20},{"col":"HPV 16","row":"CIN2/CIN3","s":"obs","t":1.76,"v":20},{"col":"HPV 16","row":"CIN2/CIN3","s":"obs","t":1.93,"v":17.3},{"col":"HPV 16","row":"CIN2/CIN3","s":"obs","t":2.11,"v":20},{"col":"HPV 16","row":"CIN2/CIN3","s":"obs","t":2.4,"v":20},{"col":"HPV 16","row":"CIN2/CIN3","s":"obs","t":2.63,"v":15.9},{"col":"HPV 16","row":"CIN2/CIN3","s":"obs","t":2.8,"v":14.5},{"col":"HPV 16","row":"CIN2/CIN3","s":"obs","t":2.97,"v":15.9},{"col":"HPV 16","row":"CIN2/CIN3","s":"obs","t":3.15,"v":16.4},{"col":"HPV 16","row":"CIN2/CIN3","s":"obs","t":3.32,"v":15.3},{"col":"HPV 16","row":"CIN2/CIN3","s":"obs","t":3.5,"v":13.7},{"col":"HPV 16","row":"CIN2/CIN3","s":"obs","t":3.67,"v":11.8},{"col":"HPV 16","row":"CIN2/CIN3","s":"obs","t":3.84,"v":13.2},{"col":"HPV 16","row":"CIN2/CIN3","s":"obs","t":3.96,"v":11.8},{"col":"HPV 16","row":"CIN2/CIN3","s":"obs","t":4.13,"v":13.7},{"col":"HPV 16","row":"CIN2/CIN3","s":"obs","t":4.36,"v":13.7},{"col":"HPV 16","row":"CIN2/CIN3","s":"obs","t":4.54,"v":13.2},{"col":"HPV 16","row":"CIN2/CIN3","s":"obs","t":4.77,"v":12.6},{"col":"HPV 16","row":"CIN2/CIN3","s":"obs","t":5,"v":11.8},
{"col":"HPV 16","row":"CIN2/CIN3","s":"mod","t":0,"v":80},{"col":"HPV 16","row":"CIN2/CIN3","s":"mod","t":0.25,"v":66},{"col":"HPV 16","row":"CIN2/CIN3","s":"mod","t":0.5,"v":56},{"col":"HPV 16","row":"CIN2/CIN3","s":"mod","t":0.75,"v":48},{"col":"HPV 16","row":"CIN2/CIN3","s":"mod","t":1,"v":41},{"col":"HPV 16","row":"CIN2/CIN3","s":"mod","t":1.5,"v":32},{"col":"HPV 16","row":"CIN2/CIN3","s":"mod","t":2,"v":26},{"col":"HPV 16","row":"CIN2/CIN3","s":"mod","t":2.5,"v":21.5},{"col":"HPV 16","row":"CIN2/CIN3","s":"mod","t":3,"v":18.5},{"col":"HPV 16","row":"CIN2/CIN3","s":"mod","t":3.5,"v":16},{"col":"HPV 16","row":"CIN2/CIN3","s":"mod","t":4,"v":14.5},{"col":"HPV 16","row":"CIN2/CIN3","s":"mod","t":4.5,"v":13.3},{"col":"HPV 16","row":"CIN2/CIN3","s":"mod","t":5,"v":12.5},
{"col":"HPV 18","row":"CIN2/CIN3","s":"obs","t":0,"v":51.5},{"col":"HPV 18","row":"CIN2/CIN3","s":"obs","t":0.12,"v":49.3},{"col":"HPV 18","row":"CIN2/CIN3","s":"obs","t":0.23,"v":46.6},{"col":"HPV 18","row":"CIN2/CIN3","s":"obs","t":0.32,"v":40.5},{"col":"HPV 18","row":"CIN2/CIN3","s":"obs","t":0.44,"v":40},{"col":"HPV 18","row":"CIN2/CIN3","s":"obs","t":0.56,"v":35},{"col":"HPV 18","row":"CIN2/CIN3","s":"obs","t":0.69,"v":31},{"col":"HPV 18","row":"CIN2/CIN3","s":"obs","t":0.83,"v":33.7},{"col":"HPV 18","row":"CIN2/CIN3","s":"obs","t":0.98,"v":32.9},{"col":"HPV 18","row":"CIN2/CIN3","s":"obs","t":1.16,"v":33.7},{"col":"HPV 18","row":"CIN2/CIN3","s":"obs","t":1.27,"v":29.6},{"col":"HPV 18","row":"CIN2/CIN3","s":"obs","t":1.39,"v":21.4},{"col":"HPV 18","row":"CIN2/CIN3","s":"obs","t":1.56,"v":19.2},{"col":"HPV 18","row":"CIN2/CIN3","s":"obs","t":1.74,"v":21.4},{"col":"HPV 18","row":"CIN2/CIN3","s":"obs","t":1.91,"v":18.1},{"col":"HPV 18","row":"CIN2/CIN3","s":"obs","t":2.03,"v":23.6},{"col":"HPV 18","row":"CIN2/CIN3","s":"obs","t":2.31,"v":23.6},{"col":"HPV 18","row":"CIN2/CIN3","s":"obs","t":2.43,"v":17.3},{"col":"HPV 18","row":"CIN2/CIN3","s":"obs","t":2.6,"v":15.3},{"col":"HPV 18","row":"CIN2/CIN3","s":"obs","t":2.72,"v":15.9},{"col":"HPV 18","row":"CIN2/CIN3","s":"obs","t":2.89,"v":20},{"col":"HPV 18","row":"CIN2/CIN3","s":"obs","t":3.07,"v":20},{"col":"HPV 18","row":"CIN2/CIN3","s":"obs","t":3.24,"v":19.2},{"col":"HPV 18","row":"CIN2/CIN3","s":"obs","t":3.41,"v":20},{"col":"HPV 18","row":"CIN2/CIN3","s":"obs","t":3.53,"v":24.1},{"col":"HPV 18","row":"CIN2/CIN3","s":"obs","t":3.65,"v":17.3},{"col":"HPV 18","row":"CIN2/CIN3","s":"obs","t":3.82,"v":16.4},{"col":"HPV 18","row":"CIN2/CIN3","s":"obs","t":3.99,"v":13.7},{"col":"HPV 18","row":"CIN2/CIN3","s":"obs","t":4.17,"v":10.4},{"col":"HPV 18","row":"CIN2/CIN3","s":"obs","t":4.4,"v":10.4},{"col":"HPV 18","row":"CIN2/CIN3","s":"obs","t":4.51,"v":11},{"col":"HPV 18","row":"CIN2/CIN3","s":"obs","t":4.65,"v":15.3},{"col":"HPV 18","row":"CIN2/CIN3","s":"obs","t":4.8,"v":10.4},{"col":"HPV 18","row":"CIN2/CIN3","s":"obs","t":5,"v":7.1},
{"col":"HPV 18","row":"CIN2/CIN3","s":"mod","t":0,"v":50},{"col":"HPV 18","row":"CIN2/CIN3","s":"mod","t":0.25,"v":43},{"col":"HPV 18","row":"CIN2/CIN3","s":"mod","t":0.5,"v":38},{"col":"HPV 18","row":"CIN2/CIN3","s":"mod","t":1,"v":31},{"col":"HPV 18","row":"CIN2/CIN3","s":"mod","t":1.5,"v":26.5},{"col":"HPV 18","row":"CIN2/CIN3","s":"mod","t":2,"v":23.5},{"col":"HPV 18","row":"CIN2/CIN3","s":"mod","t":2.5,"v":21.3},{"col":"HPV 18","row":"CIN2/CIN3","s":"mod","t":3,"v":19.6},{"col":"HPV 18","row":"CIN2/CIN3","s":"mod","t":3.5,"v":18.3},{"col":"HPV 18","row":"CIN2/CIN3","s":"mod","t":4,"v":17.2},{"col":"HPV 18","row":"CIN2/CIN3","s":"mod","t":4.5,"v":16.3},{"col":"HPV 18","row":"CIN2/CIN3","s":"mod","t":5,"v":15.5},
{"col":"HPV 52","row":"CIN2/CIN3","s":"obs","t":0,"v":63},{"col":"HPV 52","row":"CIN2/CIN3","s":"obs","t":0.09,"v":61},{"col":"HPV 52","row":"CIN2/CIN3","s":"obs","t":0.17,"v":58.4},{"col":"HPV 52","row":"CIN2/CIN3","s":"obs","t":0.27,"v":51.5},{"col":"HPV 52","row":"CIN2/CIN3","s":"obs","t":0.38,"v":44.7},{"col":"HPV 52","row":"CIN2/CIN3","s":"obs","t":0.5,"v":41.9},{"col":"HPV 52","row":"CIN2/CIN3","s":"obs","t":0.59,"v":36.4},{"col":"HPV 52","row":"CIN2/CIN3","s":"obs","t":0.71,"v":33.7},{"col":"HPV 52","row":"CIN2/CIN3","s":"obs","t":0.84,"v":32.9},{"col":"HPV 52","row":"CIN2/CIN3","s":"obs","t":1.02,"v":28.2},{"col":"HPV 52","row":"CIN2/CIN3","s":"obs","t":1.19,"v":26.3},{"col":"HPV 52","row":"CIN2/CIN3","s":"obs","t":1.37,"v":26.8},{"col":"HPV 52","row":"CIN2/CIN3","s":"obs","t":1.54,"v":22.7},{"col":"HPV 52","row":"CIN2/CIN3","s":"obs","t":1.71,"v":18.1},{"col":"HPV 52","row":"CIN2/CIN3","s":"obs","t":1.89,"v":19.2},{"col":"HPV 52","row":"CIN2/CIN3","s":"obs","t":2.0,"v":22.7},{"col":"HPV 52","row":"CIN2/CIN3","s":"obs","t":2.18,"v":20.8},{"col":"HPV 52","row":"CIN2/CIN3","s":"obs","t":2.35,"v":20},{"col":"HPV 52","row":"CIN2/CIN3","s":"obs","t":2.52,"v":20},{"col":"HPV 52","row":"CIN2/CIN3","s":"obs","t":2.69,"v":15.3},{"col":"HPV 52","row":"CIN2/CIN3","s":"obs","t":2.87,"v":20.8},{"col":"HPV 52","row":"CIN2/CIN3","s":"obs","t":3.04,"v":18.6},{"col":"HPV 52","row":"CIN2/CIN3","s":"obs","t":3.22,"v":17.3},{"col":"HPV 52","row":"CIN2/CIN3","s":"obs","t":3.45,"v":17.3},{"col":"HPV 52","row":"CIN2/CIN3","s":"obs","t":3.68,"v":15.9},{"col":"HPV 52","row":"CIN2/CIN3","s":"obs","t":3.91,"v":15.3},{"col":"HPV 52","row":"CIN2/CIN3","s":"obs","t":4.09,"v":13.2},{"col":"HPV 52","row":"CIN2/CIN3","s":"obs","t":4.32,"v":13.2},{"col":"HPV 52","row":"CIN2/CIN3","s":"obs","t":4.55,"v":12.6},{"col":"HPV 52","row":"CIN2/CIN3","s":"obs","t":4.66,"v":7.7},{"col":"HPV 52","row":"CIN2/CIN3","s":"obs","t":4.78,"v":8.2},{"col":"HPV 52","row":"CIN2/CIN3","s":"obs","t":4.9,"v":10.4},{"col":"HPV 52","row":"CIN2/CIN3","s":"obs","t":5,"v":11.8},
{"col":"HPV 52","row":"CIN2/CIN3","s":"mod","t":0,"v":62},{"col":"HPV 52","row":"CIN2/CIN3","s":"mod","t":0.25,"v":50},{"col":"HPV 52","row":"CIN2/CIN3","s":"mod","t":0.5,"v":41},{"col":"HPV 52","row":"CIN2/CIN3","s":"mod","t":0.75,"v":35},{"col":"HPV 52","row":"CIN2/CIN3","s":"mod","t":1,"v":31},{"col":"HPV 52","row":"CIN2/CIN3","s":"mod","t":1.5,"v":26},{"col":"HPV 52","row":"CIN2/CIN3","s":"mod","t":2,"v":22.5},{"col":"HPV 52","row":"CIN2/CIN3","s":"mod","t":2.5,"v":20.5},{"col":"HPV 52","row":"CIN2/CIN3","s":"mod","t":3,"v":19},{"col":"HPV 52","row":"CIN2/CIN3","s":"mod","t":3.5,"v":18},{"col":"HPV 52","row":"CIN2/CIN3","s":"mod","t":4,"v":17},{"col":"HPV 52","row":"CIN2/CIN3","s":"mod","t":4.5,"v":16.5},{"col":"HPV 52","row":"CIN2/CIN3","s":"mod","t":5,"v":16},
{"col":"HPV 58","row":"CIN2/CIN3","s":"obs","t":0,"v":69.3},{"col":"HPV 58","row":"CIN2/CIN3","s":"obs","t":0.08,"v":67.9},{"col":"HPV 58","row":"CIN2/CIN3","s":"obs","t":0.16,"v":65.8},{"col":"HPV 58","row":"CIN2/CIN3","s":"obs","t":0.25,"v":59.7},{"col":"HPV 58","row":"CIN2/CIN3","s":"obs","t":0.37,"v":54.8},{"col":"HPV 58","row":"CIN2/CIN3","s":"obs","t":0.54,"v":47.4},{"col":"HPV 58","row":"CIN2/CIN3","s":"obs","t":0.72,"v":39.2},{"col":"HPV 58","row":"CIN2/CIN3","s":"obs","t":0.89,"v":33.7},{"col":"HPV 58","row":"CIN2/CIN3","s":"obs","t":1.0,"v":36.4},{"col":"HPV 58","row":"CIN2/CIN3","s":"obs","t":1.18,"v":35},{"col":"HPV 58","row":"CIN2/CIN3","s":"obs","t":1.35,"v":33.7},{"col":"HPV 58","row":"CIN2/CIN3","s":"obs","t":1.53,"v":32.3},{"col":"HPV 58","row":"CIN2/CIN3","s":"obs","t":1.76,"v":30.1},{"col":"HPV 58","row":"CIN2/CIN3","s":"obs","t":1.9,"v":32.9},{"col":"HPV 58","row":"CIN2/CIN3","s":"obs","t":2.05,"v":30.1},{"col":"HPV 58","row":"CIN2/CIN3","s":"obs","t":2.28,"v":31.8},{"col":"HPV 58","row":"CIN2/CIN3","s":"obs","t":2.45,"v":29.6},{"col":"HPV 58","row":"CIN2/CIN3","s":"obs","t":2.63,"v":28.2},{"col":"HPV 58","row":"CIN2/CIN3","s":"obs","t":2.8,"v":29.6},{"col":"HPV 58","row":"CIN2/CIN3","s":"obs","t":3.03,"v":24.1},{"col":"HPV 58","row":"CIN2/CIN3","s":"obs","t":3.26,"v":22.7},{"col":"HPV 58","row":"CIN2/CIN3","s":"obs","t":3.5,"v":22.7},{"col":"HPV 58","row":"CIN2/CIN3","s":"obs","t":3.73,"v":23.6},{"col":"HPV 58","row":"CIN2/CIN3","s":"obs","t":3.9,"v":20},{"col":"HPV 58","row":"CIN2/CIN3","s":"obs","t":4.13,"v":21.9},{"col":"HPV 58","row":"CIN2/CIN3","s":"obs","t":4.31,"v":22.7},{"col":"HPV 58","row":"CIN2/CIN3","s":"obs","t":4.54,"v":20},{"col":"HPV 58","row":"CIN2/CIN3","s":"obs","t":4.71,"v":18.1},{"col":"HPV 58","row":"CIN2/CIN3","s":"obs","t":4.83,"v":15.9},{"col":"HPV 58","row":"CIN2/CIN3","s":"obs","t":5,"v":15.3},
{"col":"HPV 58","row":"CIN2/CIN3","s":"mod","t":0,"v":68},{"col":"HPV 58","row":"CIN2/CIN3","s":"mod","t":0.25,"v":57},{"col":"HPV 58","row":"CIN2/CIN3","s":"mod","t":0.5,"v":48},{"col":"HPV 58","row":"CIN2/CIN3","s":"mod","t":0.75,"v":41},{"col":"HPV 58","row":"CIN2/CIN3","s":"mod","t":1,"v":36},{"col":"HPV 58","row":"CIN2/CIN3","s":"mod","t":1.5,"v":32},{"col":"HPV 58","row":"CIN2/CIN3","s":"mod","t":2,"v":29.5},{"col":"HPV 58","row":"CIN2/CIN3","s":"mod","t":2.5,"v":27},{"col":"HPV 58","row":"CIN2/CIN3","s":"mod","t":3,"v":25},{"col":"HPV 58","row":"CIN2/CIN3","s":"mod","t":3.5,"v":23},{"col":"HPV 58","row":"CIN2/CIN3","s":"mod","t":4,"v":21.5},{"col":"HPV 58","row":"CIN2/CIN3","s":"mod","t":4.5,"v":20},{"col":"HPV 58","row":"CIN2/CIN3","s":"mod","t":5,"v":18.5},
{"col":"Other hrHPVs","row":"CIN2/CIN3","s":"obs","t":0,"v":48.2},{"col":"Other hrHPVs","row":"CIN2/CIN3","s":"obs","t":0.12,"v":44.7},{"col":"Other hrHPVs","row":"CIN2/CIN3","s":"obs","t":0.23,"v":42.7},{"col":"Other hrHPVs","row":"CIN2/CIN3","s":"obs","t":0.35,"v":38.4},{"col":"Other hrHPVs","row":"CIN2/CIN3","s":"obs","t":0.46,"v":33.7},{"col":"Other hrHPVs","row":"CIN2/CIN3","s":"obs","t":0.64,"v":30.1},{"col":"Other hrHPVs","row":"CIN2/CIN3","s":"obs","t":0.81,"v":26.3},{"col":"Other hrHPVs","row":"CIN2/CIN3","s":"obs","t":0.98,"v":23.6},{"col":"Other hrHPVs","row":"CIN2/CIN3","s":"obs","t":1.16,"v":21.4},{"col":"Other hrHPVs","row":"CIN2/CIN3","s":"obs","t":1.27,"v":20},{"col":"Other hrHPVs","row":"CIN2/CIN3","s":"obs","t":1.39,"v":23.6},{"col":"Other hrHPVs","row":"CIN2/CIN3","s":"obs","t":1.56,"v":21.4},{"col":"Other hrHPVs","row":"CIN2/CIN3","s":"obs","t":1.74,"v":18.6},{"col":"Other hrHPVs","row":"CIN2/CIN3","s":"obs","t":1.91,"v":15.9},{"col":"Other hrHPVs","row":"CIN2/CIN3","s":"obs","t":2.08,"v":20.8},{"col":"Other hrHPVs","row":"CIN2/CIN3","s":"obs","t":2.31,"v":20.8},{"col":"Other hrHPVs","row":"CIN2/CIN3","s":"obs","t":2.55,"v":20.8},{"col":"Other hrHPVs","row":"CIN2/CIN3","s":"obs","t":2.66,"v":21.4},{"col":"Other hrHPVs","row":"CIN2/CIN3","s":"obs","t":2.84,"v":18.6},{"col":"Other hrHPVs","row":"CIN2/CIN3","s":"obs","t":3.01,"v":19.2},{"col":"Other hrHPVs","row":"CIN2/CIN3","s":"obs","t":3.24,"v":19.2},{"col":"Other hrHPVs","row":"CIN2/CIN3","s":"obs","t":3.41,"v":19.2},{"col":"Other hrHPVs","row":"CIN2/CIN3","s":"obs","t":3.53,"v":16.4},{"col":"Other hrHPVs","row":"CIN2/CIN3","s":"obs","t":3.7,"v":14.5},{"col":"Other hrHPVs","row":"CIN2/CIN3","s":"obs","t":3.93,"v":14.5},{"col":"Other hrHPVs","row":"CIN2/CIN3","s":"obs","t":4.1,"v":16.4},{"col":"Other hrHPVs","row":"CIN2/CIN3","s":"obs","t":4.28,"v":16.4},{"col":"Other hrHPVs","row":"CIN2/CIN3","s":"obs","t":4.46,"v":16.4},{"col":"Other hrHPVs","row":"CIN2/CIN3","s":"obs","t":4.63,"v":12.6},{"col":"Other hrHPVs","row":"CIN2/CIN3","s":"obs","t":4.8,"v":9.9},{"col":"Other hrHPVs","row":"CIN2/CIN3","s":"obs","t":5,"v":9},
{"col":"Other hrHPVs","row":"CIN2/CIN3","s":"mod","t":0,"v":47},{"col":"Other hrHPVs","row":"CIN2/CIN3","s":"mod","t":0.25,"v":39},{"col":"Other hrHPVs","row":"CIN2/CIN3","s":"mod","t":0.5,"v":32},{"col":"Other hrHPVs","row":"CIN2/CIN3","s":"mod","t":0.75,"v":27},{"col":"Other hrHPVs","row":"CIN2/CIN3","s":"mod","t":1,"v":23.5},{"col":"Other hrHPVs","row":"CIN2/CIN3","s":"mod","t":1.5,"v":18.5},{"col":"Other hrHPVs","row":"CIN2/CIN3","s":"mod","t":2,"v":15},{"col":"Other hrHPVs","row":"CIN2/CIN3","s":"mod","t":2.5,"v":13},{"col":"Other hrHPVs","row":"CIN2/CIN3","s":"mod","t":3,"v":11.8},{"col":"Other hrHPVs","row":"CIN2/CIN3","s":"mod","t":3.5,"v":10.8},{"col":"Other hrHPVs","row":"CIN2/CIN3","s":"mod","t":4,"v":10},{"col":"Other hrHPVs","row":"CIN2/CIN3","s":"mod","t":4.5,"v":9.4},{"col":"Other hrHPVs","row":"CIN2/CIN3","s":"mod","t":5,"v":9},
{"col":"No hrHPVs","row":"CIN2/CIN3","s":"obs","t":0,"v":25.5},{"col":"No hrHPVs","row":"CIN2/CIN3","s":"obs","t":0.12,"v":24.7},{"col":"No hrHPVs","row":"CIN2/CIN3","s":"obs","t":0.23,"v":21.9},{"col":"No hrHPVs","row":"CIN2/CIN3","s":"obs","t":0.35,"v":15.9},{"col":"No hrHPVs","row":"CIN2/CIN3","s":"obs","t":0.46,"v":13.2},{"col":"No hrHPVs","row":"CIN2/CIN3","s":"obs","t":0.58,"v":10.4},{"col":"No hrHPVs","row":"CIN2/CIN3","s":"obs","t":0.81,"v":9.9},{"col":"No hrHPVs","row":"CIN2/CIN3","s":"obs","t":1.04,"v":9},{"col":"No hrHPVs","row":"CIN2/CIN3","s":"obs","t":1.27,"v":9},{"col":"No hrHPVs","row":"CIN2/CIN3","s":"obs","t":1.5,"v":8.2},{"col":"No hrHPVs","row":"CIN2/CIN3","s":"obs","t":1.71,"v":5.5},{"col":"No hrHPVs","row":"CIN2/CIN3","s":"obs","t":1.97,"v":6.3},{"col":"No hrHPVs","row":"CIN2/CIN3","s":"obs","t":2.26,"v":6.3},{"col":"No hrHPVs","row":"CIN2/CIN3","s":"obs","t":2.43,"v":8.2},{"col":"No hrHPVs","row":"CIN2/CIN3","s":"obs","t":2.66,"v":9},{"col":"No hrHPVs","row":"CIN2/CIN3","s":"obs","t":2.89,"v":9},{"col":"No hrHPVs","row":"CIN2/CIN3","s":"obs","t":3.01,"v":11},{"col":"No hrHPVs","row":"CIN2/CIN3","s":"obs","t":3.24,"v":9.9},{"col":"No hrHPVs","row":"CIN2/CIN3","s":"obs","t":3.47,"v":11.8},{"col":"No hrHPVs","row":"CIN2/CIN3","s":"obs","t":3.65,"v":9.9},{"col":"No hrHPVs","row":"CIN2/CIN3","s":"obs","t":3.88,"v":9},{"col":"No hrHPVs","row":"CIN2/CIN3","s":"obs","t":4.11,"v":7.7},{"col":"No hrHPVs","row":"CIN2/CIN3","s":"obs","t":4.34,"v":7.7},{"col":"No hrHPVs","row":"CIN2/CIN3","s":"obs","t":4.57,"v":6.3},{"col":"No hrHPVs","row":"CIN2/CIN3","s":"obs","t":4.8,"v":6.3},{"col":"No hrHPVs","row":"CIN2/CIN3","s":"obs","t":5,"v":5.5},
{"col":"No hrHPVs","row":"CIN2/CIN3","s":"mod","t":0,"v":25},{"col":"No hrHPVs","row":"CIN2/CIN3","s":"mod","t":0.15,"v":22},{"col":"No hrHPVs","row":"CIN2/CIN3","s":"mod","t":0.3,"v":18},{"col":"No hrHPVs","row":"CIN2/CIN3","s":"mod","t":0.5,"v":14},{"col":"No hrHPVs","row":"CIN2/CIN3","s":"mod","t":0.75,"v":11.5},{"col":"No hrHPVs","row":"CIN2/CIN3","s":"mod","t":1,"v":10},{"col":"No hrHPVs","row":"CIN2/CIN3","s":"mod","t":1.5,"v":8.5},{"col":"No hrHPVs","row":"CIN2/CIN3","s":"mod","t":2,"v":7.5},{"col":"No hrHPVs","row":"CIN2/CIN3","s":"mod","t":2.5,"v":7},{"col":"No hrHPVs","row":"CIN2/CIN3","s":"mod","t":3,"v":6.5},{"col":"No hrHPVs","row":"CIN2/CIN3","s":"mod","t":3.5,"v":6.2},{"col":"No hrHPVs","row":"CIN2/CIN3","s":"mod","t":4,"v":6},{"col":"No hrHPVs","row":"CIN2/CIN3","s":"mod","t":4.5,"v":5.8},{"col":"No hrHPVs","row":"CIN2/CIN3","s":"mod","t":5,"v":5.5},
{"col":"HPV 16","row":"Treatment","s":"obs","t":0,"v":0},{"col":"HPV 16","row":"Treatment","s":"obs","t":0.09,"v":3.3},{"col":"HPV 16","row":"Treatment","s":"obs","t":0.21,"v":7.4},{"col":"HPV 16","row":"Treatment","s":"obs","t":0.27,"v":12.8},{"col":"HPV 16","row":"Treatment","s":"obs","t":0.38,"v":18.3},{"col":"HPV 16","row":"Treatment","s":"obs","t":0.5,"v":21},{"col":"HPV 16","row":"Treatment","s":"obs","t":0.61,"v":26.4},{"col":"HPV 16","row":"Treatment","s":"obs","t":0.73,"v":30},{"col":"HPV 16","row":"Treatment","s":"obs","t":0.96,"v":33.8},{"col":"HPV 16","row":"Treatment","s":"obs","t":1.19,"v":37.3},{"col":"HPV 16","row":"Treatment","s":"obs","t":1.42,"v":40.9},{"col":"HPV 16","row":"Treatment","s":"obs","t":1.59,"v":44.7},{"col":"HPV 16","row":"Treatment","s":"obs","t":1.82,"v":47.4},{"col":"HPV 16","row":"Treatment","s":"obs","t":2.06,"v":51},{"col":"HPV 16","row":"Treatment","s":"obs","t":2.34,"v":53.7},{"col":"HPV 16","row":"Treatment","s":"obs","t":2.58,"v":55.6},{"col":"HPV 16","row":"Treatment","s":"obs","t":2.81,"v":58.3},{"col":"HPV 16","row":"Treatment","s":"obs","t":3.15,"v":60.5},{"col":"HPV 16","row":"Treatment","s":"obs","t":3.44,"v":63.2},{"col":"HPV 16","row":"Treatment","s":"obs","t":3.79,"v":65.4},{"col":"HPV 16","row":"Treatment","s":"obs","t":4.08,"v":67.3},{"col":"HPV 16","row":"Treatment","s":"obs","t":4.42,"v":69.2},{"col":"HPV 16","row":"Treatment","s":"obs","t":4.71,"v":71.4},{"col":"HPV 16","row":"Treatment","s":"obs","t":5,"v":72.8},
{"col":"HPV 16","row":"Treatment","s":"mod","t":0,"v":0},{"col":"HPV 16","row":"Treatment","s":"mod","t":0.25,"v":12},{"col":"HPV 16","row":"Treatment","s":"mod","t":0.5,"v":18},{"col":"HPV 16","row":"Treatment","s":"mod","t":0.75,"v":23},{"col":"HPV 16","row":"Treatment","s":"mod","t":1,"v":27},{"col":"HPV 16","row":"Treatment","s":"mod","t":1.5,"v":33.5},{"col":"HPV 16","row":"Treatment","s":"mod","t":2,"v":39.5},{"col":"HPV 16","row":"Treatment","s":"mod","t":2.5,"v":44.5},{"col":"HPV 16","row":"Treatment","s":"mod","t":3,"v":49},{"col":"HPV 16","row":"Treatment","s":"mod","t":3.5,"v":53},{"col":"HPV 16","row":"Treatment","s":"mod","t":4,"v":57},{"col":"HPV 16","row":"Treatment","s":"mod","t":4.5,"v":60.5},{"col":"HPV 16","row":"Treatment","s":"mod","t":5,"v":64},
{"col":"HPV 18","row":"Treatment","s":"obs","t":0,"v":0},{"col":"HPV 18","row":"Treatment","s":"obs","t":0.08,"v":3.3},{"col":"HPV 18","row":"Treatment","s":"obs","t":0.25,"v":6.5},{"col":"HPV 18","row":"Treatment","s":"obs","t":0.37,"v":8.7},{"col":"HPV 18","row":"Treatment","s":"obs","t":0.54,"v":10.9},{"col":"HPV 18","row":"Treatment","s":"obs","t":0.66,"v":13.6},{"col":"HPV 18","row":"Treatment","s":"obs","t":0.83,"v":14.7},{"col":"HPV 18","row":"Treatment","s":"obs","t":1.0,"v":17.4},{"col":"HPV 18","row":"Treatment","s":"obs","t":1.17,"v":20.2},{"col":"HPV 18","row":"Treatment","s":"obs","t":1.4,"v":21},{"col":"HPV 18","row":"Treatment","s":"obs","t":1.52,"v":24.5},{"col":"HPV 18","row":"Treatment","s":"obs","t":1.75,"v":25.6},{"col":"HPV 18","row":"Treatment","s":"obs","t":1.98,"v":28.3},{"col":"HPV 18","row":"Treatment","s":"obs","t":2.21,"v":29.2},{"col":"HPV 18","row":"Treatment","s":"obs","t":2.49,"v":29.2},{"col":"HPV 18","row":"Treatment","s":"obs","t":2.67,"v":31.1},{"col":"HPV 18","row":"Treatment","s":"obs","t":2.84,"v":34.6},{"col":"HPV 18","row":"Treatment","s":"obs","t":3.13,"v":34.6},{"col":"HPV 18","row":"Treatment","s":"obs","t":3.36,"v":35.4},{"col":"HPV 18","row":"Treatment","s":"obs","t":3.53,"v":36.5},{"col":"HPV 18","row":"Treatment","s":"obs","t":3.64,"v":40},{"col":"HPV 18","row":"Treatment","s":"obs","t":3.87,"v":40},{"col":"HPV 18","row":"Treatment","s":"obs","t":4.02,"v":46.9},{"col":"HPV 18","row":"Treatment","s":"obs","t":4.16,"v":47.4},{"col":"HPV 18","row":"Treatment","s":"obs","t":4.33,"v":50.1},{"col":"HPV 18","row":"Treatment","s":"obs","t":4.51,"v":52.3},{"col":"HPV 18","row":"Treatment","s":"obs","t":4.68,"v":52.9},{"col":"HPV 18","row":"Treatment","s":"obs","t":4.79,"v":54.5},{"col":"HPV 18","row":"Treatment","s":"obs","t":5,"v":56.4},
{"col":"HPV 18","row":"Treatment","s":"mod","t":0,"v":0},{"col":"HPV 18","row":"Treatment","s":"mod","t":0.25,"v":4},{"col":"HPV 18","row":"Treatment","s":"mod","t":0.5,"v":7.5},{"col":"HPV 18","row":"Treatment","s":"mod","t":1,"v":12.5},{"col":"HPV 18","row":"Treatment","s":"mod","t":1.5,"v":16.5},{"col":"HPV 18","row":"Treatment","s":"mod","t":2,"v":20.5},{"col":"HPV 18","row":"Treatment","s":"mod","t":2.5,"v":24},{"col":"HPV 18","row":"Treatment","s":"mod","t":3,"v":27},{"col":"HPV 18","row":"Treatment","s":"mod","t":3.5,"v":30},{"col":"HPV 18","row":"Treatment","s":"mod","t":4,"v":32.5},{"col":"HPV 18","row":"Treatment","s":"mod","t":4.5,"v":35},{"col":"HPV 18","row":"Treatment","s":"mod","t":5,"v":37},
{"col":"HPV 52","row":"Treatment","s":"obs","t":0,"v":0},{"col":"HPV 52","row":"Treatment","s":"obs","t":0.12,"v":4.6},{"col":"HPV 52","row":"Treatment","s":"obs","t":0.23,"v":8.7},{"col":"HPV 52","row":"Treatment","s":"obs","t":0.35,"v":12.8},{"col":"HPV 52","row":"Treatment","s":"obs","t":0.46,"v":14.7},{"col":"HPV 52","row":"Treatment","s":"obs","t":0.58,"v":15.5},{"col":"HPV 52","row":"Treatment","s":"obs","t":0.69,"v":18.3},{"col":"HPV 52","row":"Treatment","s":"obs","t":0.87,"v":21},{"col":"HPV 52","row":"Treatment","s":"obs","t":0.98,"v":22.9},{"col":"HPV 52","row":"Treatment","s":"obs","t":1.1,"v":26.4},{"col":"HPV 52","row":"Treatment","s":"obs","t":1.27,"v":28.3},{"col":"HPV 52","row":"Treatment","s":"obs","t":1.5,"v":30},{"col":"HPV 52","row":"Treatment","s":"obs","t":1.73,"v":31.1},{"col":"HPV 52","row":"Treatment","s":"obs","t":1.96,"v":32.7},{"col":"HPV 52","row":"Treatment","s":"obs","t":2.19,"v":34.6},{"col":"HPV 52","row":"Treatment","s":"obs","t":2.42,"v":37.3},{"col":"HPV 52","row":"Treatment","s":"obs","t":2.66,"v":37.3},{"col":"HPV 52","row":"Treatment","s":"obs","t":2.89,"v":40},{"col":"HPV 52","row":"Treatment","s":"obs","t":3.12,"v":42.8},{"col":"HPV 52","row":"Treatment","s":"obs","t":3.35,"v":45.5},{"col":"HPV 52","row":"Treatment","s":"obs","t":3.58,"v":47.4},{"col":"HPV 52","row":"Treatment","s":"obs","t":3.81,"v":51},{"col":"HPV 52","row":"Treatment","s":"obs","t":4.04,"v":52.9},{"col":"HPV 52","row":"Treatment","s":"obs","t":4.27,"v":54.5},{"col":"HPV 52","row":"Treatment","s":"obs","t":4.5,"v":55.6},{"col":"HPV 52","row":"Treatment","s":"obs","t":4.73,"v":57.2},{"col":"HPV 52","row":"Treatment","s":"obs","t":5,"v":57.8},
{"col":"HPV 52","row":"Treatment","s":"mod","t":0,"v":0},{"col":"HPV 52","row":"Treatment","s":"mod","t":0.25,"v":5},{"col":"HPV 52","row":"Treatment","s":"mod","t":0.5,"v":9.5},{"col":"HPV 52","row":"Treatment","s":"mod","t":1,"v":15},{"col":"HPV 52","row":"Treatment","s":"mod","t":1.5,"v":19.5},{"col":"HPV 52","row":"Treatment","s":"mod","t":2,"v":23.5},{"col":"HPV 52","row":"Treatment","s":"mod","t":2.5,"v":27},{"col":"HPV 52","row":"Treatment","s":"mod","t":3,"v":30.5},{"col":"HPV 52","row":"Treatment","s":"mod","t":3.5,"v":33.5},{"col":"HPV 52","row":"Treatment","s":"mod","t":4,"v":36.5},{"col":"HPV 52","row":"Treatment","s":"mod","t":4.5,"v":39},{"col":"HPV 52","row":"Treatment","s":"mod","t":5,"v":41.5},
{"col":"HPV 58","row":"Treatment","s":"obs","t":0,"v":0},{"col":"HPV 58","row":"Treatment","s":"obs","t":0.14,"v":2.7},{"col":"HPV 58","row":"Treatment","s":"obs","t":0.28,"v":6},{"col":"HPV 58","row":"Treatment","s":"obs","t":0.43,"v":7.4},{"col":"HPV 58","row":"Treatment","s":"obs","t":0.6,"v":12},{"col":"HPV 58","row":"Treatment","s":"obs","t":0.78,"v":13.6},{"col":"HPV 58","row":"Treatment","s":"obs","t":0.95,"v":16.3},{"col":"HPV 58","row":"Treatment","s":"obs","t":1.18,"v":19.1},{"col":"HPV 58","row":"Treatment","s":"obs","t":1.41,"v":21},{"col":"HPV 58","row":"Treatment","s":"obs","t":1.58,"v":25.1},{"col":"HPV 58","row":"Treatment","s":"obs","t":1.76,"v":30},{"col":"HPV 58","row":"Treatment","s":"obs","t":1.99,"v":30},{"col":"HPV 58","row":"Treatment","s":"obs","t":2.22,"v":31.9},{"col":"HPV 58","row":"Treatment","s":"obs","t":2.45,"v":33.2},{"col":"HPV 58","row":"Treatment","s":"obs","t":2.68,"v":34.6},{"col":"HPV 58","row":"Treatment","s":"obs","t":2.91,"v":37.3},{"col":"HPV 58","row":"Treatment","s":"obs","t":3.14,"v":38.1},{"col":"HPV 58","row":"Treatment","s":"obs","t":3.37,"v":40},{"col":"HPV 58","row":"Treatment","s":"obs","t":3.6,"v":40.9},{"col":"HPV 58","row":"Treatment","s":"obs","t":3.83,"v":42},{"col":"HPV 58","row":"Treatment","s":"obs","t":4.01,"v":44.7},{"col":"HPV 58","row":"Treatment","s":"obs","t":4.24,"v":44.7},{"col":"HPV 58","row":"Treatment","s":"obs","t":4.41,"v":46.3},{"col":"HPV 58","row":"Treatment","s":"obs","t":4.64,"v":47.4},{"col":"HPV 58","row":"Treatment","s":"obs","t":4.82,"v":49.6},{"col":"HPV 58","row":"Treatment","s":"obs","t":5,"v":51.8},
{"col":"HPV 58","row":"Treatment","s":"mod","t":0,"v":0},{"col":"HPV 58","row":"Treatment","s":"mod","t":0.5,"v":9},{"col":"HPV 58","row":"Treatment","s":"mod","t":1,"v":14.5},{"col":"HPV 58","row":"Treatment","s":"mod","t":1.5,"v":19},{"col":"HPV 58","row":"Treatment","s":"mod","t":2,"v":23},{"col":"HPV 58","row":"Treatment","s":"mod","t":2.5,"v":26.5},{"col":"HPV 58","row":"Treatment","s":"mod","t":3,"v":29.5},{"col":"HPV 58","row":"Treatment","s":"mod","t":3.5,"v":32.5},{"col":"HPV 58","row":"Treatment","s":"mod","t":4,"v":35},{"col":"HPV 58","row":"Treatment","s":"mod","t":4.5,"v":37.5},{"col":"HPV 58","row":"Treatment","s":"mod","t":5,"v":39.5},
{"col":"Other hrHPVs","row":"Treatment","s":"obs","t":0,"v":0},{"col":"Other hrHPVs","row":"Treatment","s":"obs","t":0.08,"v":4.6},{"col":"Other hrHPVs","row":"Treatment","s":"obs","t":0.2,"v":6},{"col":"Other hrHPVs","row":"Treatment","s":"obs","t":0.37,"v":7.4},{"col":"Other hrHPVs","row":"Treatment","s":"obs","t":0.54,"v":8.7},{"col":"Other hrHPVs","row":"Treatment","s":"obs","t":0.71,"v":10.9},{"col":"Other hrHPVs","row":"Treatment","s":"obs","t":0.94,"v":12},{"col":"Other hrHPVs","row":"Treatment","s":"obs","t":1.11,"v":12.8},{"col":"Other hrHPVs","row":"Treatment","s":"obs","t":1.23,"v":15.5},{"col":"Other hrHPVs","row":"Treatment","s":"obs","t":1.46,"v":16.3},{"col":"Other hrHPVs","row":"Treatment","s":"obs","t":1.63,"v":16.9},{"col":"Other hrHPVs","row":"Treatment","s":"obs","t":1.8,"v":19.1},{"col":"Other hrHPVs","row":"Treatment","s":"obs","t":2.09,"v":19.6},{"col":"Other hrHPVs","row":"Treatment","s":"obs","t":2.38,"v":20.2},{"col":"Other hrHPVs","row":"Treatment","s":"obs","t":2.61,"v":21},{"col":"Other hrHPVs","row":"Treatment","s":"obs","t":2.84,"v":22.3},{"col":"Other hrHPVs","row":"Treatment","s":"obs","t":3.07,"v":23.7},{"col":"Other hrHPVs","row":"Treatment","s":"obs","t":3.3,"v":24.5},{"col":"Other hrHPVs","row":"Treatment","s":"obs","t":3.47,"v":25.6},{"col":"Other hrHPVs","row":"Treatment","s":"obs","t":3.7,"v":28.3},{"col":"Other hrHPVs","row":"Treatment","s":"obs","t":3.93,"v":31.9},{"col":"Other hrHPVs","row":"Treatment","s":"obs","t":4.16,"v":34.6},{"col":"Other hrHPVs","row":"Treatment","s":"obs","t":4.39,"v":37.3},{"col":"Other hrHPVs","row":"Treatment","s":"obs","t":4.62,"v":40.9},{"col":"Other hrHPVs","row":"Treatment","s":"obs","t":4.8,"v":42.8},{"col":"Other hrHPVs","row":"Treatment","s":"obs","t":5,"v":46.3},
{"col":"Other hrHPVs","row":"Treatment","s":"mod","t":0,"v":2},{"col":"Other hrHPVs","row":"Treatment","s":"mod","t":0.5,"v":8},{"col":"Other hrHPVs","row":"Treatment","s":"mod","t":1,"v":11.5},{"col":"Other hrHPVs","row":"Treatment","s":"mod","t":1.5,"v":14},{"col":"Other hrHPVs","row":"Treatment","s":"mod","t":2,"v":16.5},{"col":"Other hrHPVs","row":"Treatment","s":"mod","t":2.5,"v":18.5},{"col":"Other hrHPVs","row":"Treatment","s":"mod","t":3,"v":20.5},{"col":"Other hrHPVs","row":"Treatment","s":"mod","t":3.5,"v":22},{"col":"Other hrHPVs","row":"Treatment","s":"mod","t":4,"v":23.5},{"col":"Other hrHPVs","row":"Treatment","s":"mod","t":4.5,"v":25},{"col":"Other hrHPVs","row":"Treatment","s":"mod","t":5,"v":26.5},
{"col":"No hrHPVs","row":"Treatment","s":"obs","t":0,"v":0},{"col":"No hrHPVs","row":"Treatment","s":"obs","t":0.12,"v":1.1},{"col":"No hrHPVs","row":"Treatment","s":"obs","t":0.29,"v":3.3},{"col":"No hrHPVs","row":"Treatment","s":"obs","t":0.52,"v":4.6},{"col":"No hrHPVs","row":"Treatment","s":"obs","t":0.8,"v":6},{"col":"No hrHPVs","row":"Treatment","s":"obs","t":1.15,"v":6},{"col":"No hrHPVs","row":"Treatment","s":"obs","t":1.49,"v":6.5},{"col":"No hrHPVs","row":"Treatment","s":"obs","t":1.84,"v":7.4},{"col":"No hrHPVs","row":"Treatment","s":"obs","t":2.18,"v":8.2},{"col":"No hrHPVs","row":"Treatment","s":"obs","t":2.53,"v":8.7},{"col":"No hrHPVs","row":"Treatment","s":"obs","t":2.87,"v":9.3},{"col":"No hrHPVs","row":"Treatment","s":"obs","t":3.1,"v":10.9},{"col":"No hrHPVs","row":"Treatment","s":"obs","t":3.45,"v":11.4},{"col":"No hrHPVs","row":"Treatment","s":"obs","t":3.74,"v":12},{"col":"No hrHPVs","row":"Treatment","s":"obs","t":3.97,"v":13.6},{"col":"No hrHPVs","row":"Treatment","s":"obs","t":4.2,"v":15.5},{"col":"No hrHPVs","row":"Treatment","s":"obs","t":4.43,"v":16.3},{"col":"No hrHPVs","row":"Treatment","s":"obs","t":4.66,"v":16.9},{"col":"No hrHPVs","row":"Treatment","s":"obs","t":4.83,"v":18.3},{"col":"No hrHPVs","row":"Treatment","s":"obs","t":5,"v":19.6},
{"col":"No hrHPVs","row":"Treatment","s":"mod","t":0,"v":1},{"col":"No hrHPVs","row":"Treatment","s":"mod","t":0.5,"v":3.5},{"col":"No hrHPVs","row":"Treatment","s":"mod","t":1,"v":5},{"col":"No hrHPVs","row":"Treatment","s":"mod","t":1.5,"v":5.8},{"col":"No hrHPVs","row":"Treatment","s":"mod","t":2,"v":6.5},{"col":"No hrHPVs","row":"Treatment","s":"mod","t":2.5,"v":7},{"col":"No hrHPVs","row":"Treatment","s":"mod","t":3,"v":7.5},{"col":"No hrHPVs","row":"Treatment","s":"mod","t":3.5,"v":8},{"col":"No hrHPVs","row":"Treatment","s":"mod","t":4,"v":8.5},{"col":"No hrHPVs","row":"Treatment","s":"mod","t":4.5,"v":9},{"col":"No hrHPVs","row":"Treatment","s":"mod","t":5,"v":9.5}
]},
"facet": {
  "column": {"field": "col", "type": "nominal", "sort": ["HPV 16","HPV 18","HPV 52","HPV 58","Other hrHPVs","No hrHPVs"],
    "header": {"labels": false, "title": "Years after entry", "titleOrient": "bottom", "titleFont": "Liberation Sans", "titleFontSize": 21.8, "titleFontWeight": "normal", "titleColor": "black", "titlePadding": 0}},
  "row": {"field": "row", "type": "nominal", "sort": ["Normal","CIN1","CIN2/CIN3","Treatment"],
    "header": {"labels": false, "title": "Prevalence (%)", "titleOrient": "left", "titleFont": "Liberation Sans", "titleFontSize": 21.8, "titleFontWeight": "normal", "titleColor": "black", "titlePadding": -1}}
},
"spacing": {"row": 8, "column": 8},
"bounds": "flush",
"spec": {
  "width": 162,
  "height": 136,
  "resolve": {"axis": {"x": "independent", "y": "independent"}},
  "layer": [
    {
      "transform": [{"filter": "datum.s == 'obs'"}],
      "mark": {"type": "line", "color": "black", "strokeWidth": 2.1},
      "encoding": {
        "x": {"field": "t", "type": "quantitative", "scale": {"domain": [-0.25, 5.25], "nice": false, "zero": false},
          "axis": {"title": null, "orient": "bottom", "values": [0,1,2,3,4,5], "format": "d", "gridWidth": 2, "labelOverlap": false, "labelFlush": false}},
        "y": {"field": "v", "type": "quantitative", "scale": {"domain": [-5, 105], "nice": false, "zero": false},
          "axis": {"title": null, "orient": "left", "values": [0,25,50,75,100], "format": "d", "gridWidth": 2, "labelOverlap": false, "labelFlush": false}}
      }
    },
    {
      "transform": [{"filter": "datum.s == 'mod'"}],
      "mark": {"type": "line", "color": "black", "strokeWidth": 2.1, "strokeDash": [6, 4]},
      "encoding": {
        "x": {"field": "t", "type": "quantitative", "scale": {"domain": [-0.25, 5.25], "nice": false, "zero": false},
          "axis": {"title": null, "orient": "top", "values": [0.5,1.5,2.5,3.5,4.5], "labels": false, "ticks": false, "domain": false, "gridWidth": 1, "offset": 0}},
        "y": {"field": "v", "type": "quantitative", "scale": {"domain": [-5, 105], "nice": false, "zero": false},
          "axis": {"title": null, "orient": "right", "values": [12.5,37.5,62.5,87.5], "labels": false, "ticks": false, "domain": false, "gridWidth": 1, "offset": 0}}
      }
    },
    {
      "transform": [{"filter": "datum.row == 'Normal' && datum.s == 'obs' && datum.t == 0"}],
      "mark": {"type": "rect", "color": "#D9D9D9", "strokeWidth": 0},
      "encoding": {
        "x": {"datum": -0.25, "type": "quantitative", "scale": {"domain": [-0.25, 5.25], "nice": false, "zero": false}, "axis": null},
        "x2": {"datum": 5.25},
        "y": {"datum": 106.6, "type": "quantitative", "scale": {"domain": [-5, 105], "nice": false, "zero": false}, "axis": null},
        "y2": {"datum": 134}
      }
    },
    {
      "transform": [{"filter": "datum.row == 'Normal' && datum.s == 'obs' && datum.t == 0"}],
      "mark": {"type": "text", "font": "Liberation Sans", "fontSize": 18, "color": "#1A1A1A", "align": "center", "baseline": "middle"},
      "encoding": {
        "x": {"datum": 2.5, "type": "quantitative", "scale": {"domain": [-0.25, 5.25], "nice": false, "zero": false}, "axis": null},
        "y": {"datum": 120.3, "type": "quantitative", "scale": {"domain": [-5, 105], "nice": false, "zero": false}, "axis": null},
        "text": {"field": "col"}
      }
    },
    {
      "transform": [{"filter": "datum.col == 'No hrHPVs' && datum.s == 'obs' && datum.t == 0"}],
      "mark": {"type": "rect", "color": "#D9D9D9", "strokeWidth": 0},
      "encoding": {
        "x": {"datum": 5.32, "type": "quantitative", "scale": {"domain": [-0.25, 5.25], "nice": false, "zero": false}, "axis": null},
        "x2": {"datum": 6.37},
        "y": {"datum": -5, "type": "quantitative", "scale": {"domain": [-5, 105], "nice": false, "zero": false}, "axis": null},
        "y2": {"datum": 105}
      }
    },
    {
      "transform": [{"filter": "datum.col == 'No hrHPVs' && datum.s == 'obs' && datum.t == 0"}],
      "mark": {"type": "text", "font": "Liberation Sans", "fontSize": 18, "color": "#1A1A1A", "align": "center", "baseline": "middle", "angle": 90},
      "encoding": {
        "x": {"datum": 5.845, "type": "quantitative", "scale": {"domain": [-0.25, 5.25], "nice": false, "zero": false}, "axis": null},
        "y": {"datum": 50, "type": "quantitative", "scale": {"domain": [-5, 105], "nice": false, "zero": false}, "axis": null},
        "text": {"field": "row"}
      }
    }
  ]
},
"config": {
  "font": "Liberation Sans",
  "view": {"fill": "#EBEBEB", "stroke": null},
  "axis": {
    "domain": false, "grid": true, "gridColor": "#FFFFFF",
    "tickColor": "#333333", "tickSize": 5.5, "tickWidth": 1.8,
    "labelColor": "#4D4D4D", "labelFont": "Liberation Sans", "labelFontSize": 17.5, "labelPadding": 2,
    "labelFlush": false, "labelOverlap": false, "title": null
  }
}
}
